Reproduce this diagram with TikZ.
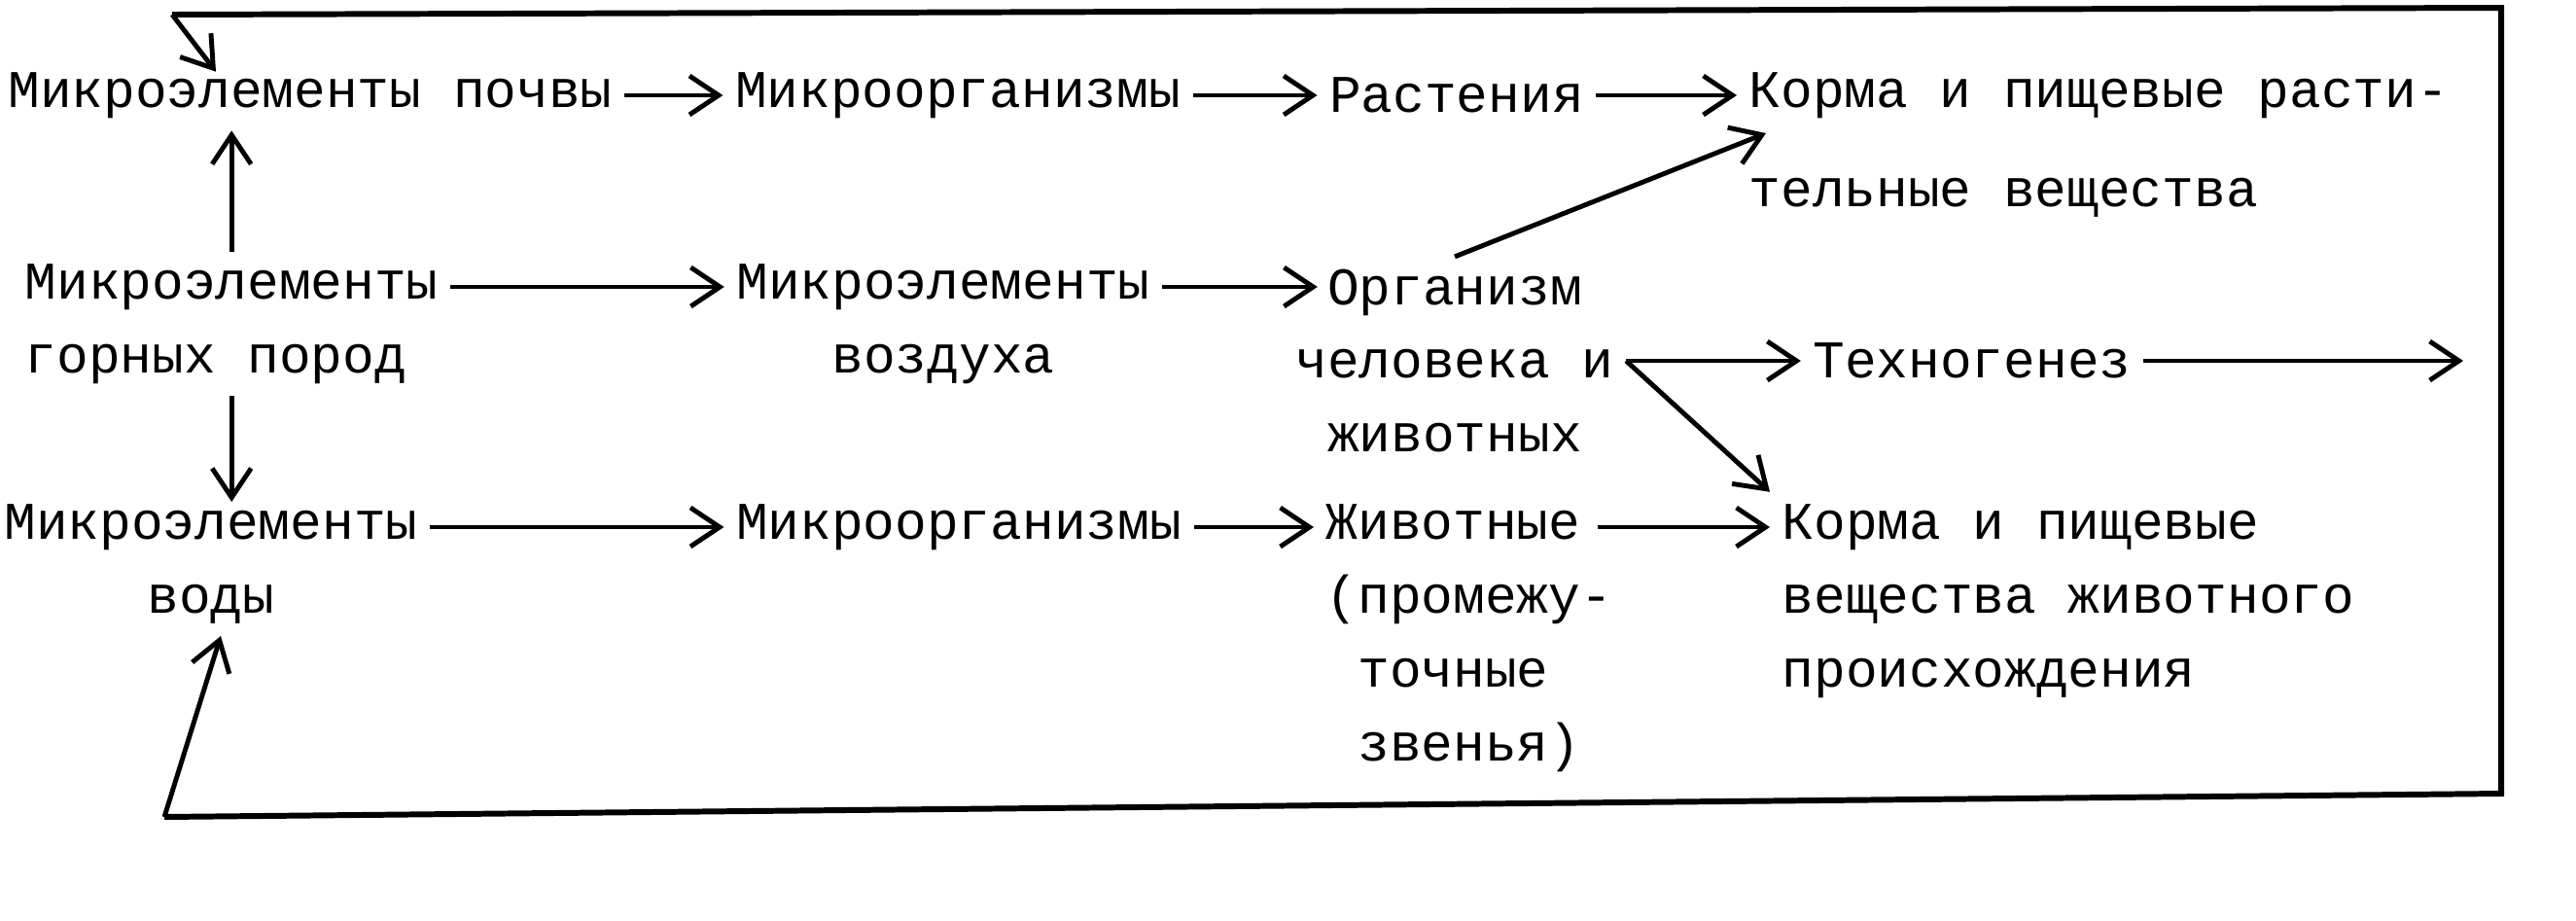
\documentclass[tikz,border=0pt]{standalone}
\usepackage{fontspec}
\setmonofont{Liberation Mono}
\usetikzlibrary{arrows.meta,calc}

\begin{document}
\begin{tikzpicture}[
    txt/.style={font=\ttfamily\fontsize{15.5}{21.6}\selectfont, inner sep=1.2mm},
    arr/.style={-{Straight Barb[length=3mm,width=4mm]}, line width=1.4pt},
    frame/.style={line width=1.7pt}
  ]
  \useasboundingbox (0,0) rectangle (26.49,-9.46);

  % first row
  \node[txt] (soil) at (3.19,-0.98) {Микроэлементы почвы};
  \node[txt] (micro1) at (9.85,-0.98) {Микроорганизмы};
  \node[txt] (plants) at (14.98,-0.98) {Растения};
  \node[txt, align=left, anchor=west] (feedplant) at (17.86,-1.49) {Корма и пищевые расти-\\[0.26cm]тельные вещества};

  % second row
  \node[txt, align=left, anchor=west] (rocks) at (0.13,-3.33) {Микроэлементы\\горных пород};
  \node[txt, align=center] (air) at (9.70,-3.33) {Микроэлементы\\воздуха};
  \node[txt, align=center] (organism) at (14.96,-3.71) {Организм\\человека и\\животных};
  \node[txt] (techno) at (20.28,-3.71) {Техногенез};
  \coordinate (out) at (25.33,-3.71);

  % third row
  \node[txt, align=center] (water) at (2.17,-5.80) {Микроэлементы\\воды};
  \node[txt] (micro2) at (9.86,-5.42) {Микроорганизмы};
  \node[txt, align=left, anchor=west] (animals) at (13.51,-6.56) {Животные\\(промежу-\\~точные\\~звенья)};
  \node[txt, align=left, anchor=west] (feedanimal) at (18.20,-6.18) {Корма и пищевые\\вещества животного\\происхождения};

  % frame
  \coordinate (tl) at (1.77,-0.15);
  \coordinate (tr) at (25.72,-0.08);
  \coordinate (br) at (25.72,-8.16);
  \coordinate (bl) at (1.69,-8.40);
  \draw[frame] (tl) -- (tr) -- (br) -- (bl);
  \draw[arr] (tl) -- ($(soil.north west)!0.35!(soil.north east)+(0,-0.12)$);
  \draw[arr] (bl) -- ([xshift=1mm]water.south);

  \draw[arr] (soil) -- (micro1);
  \draw[arr] (micro1) -- (plants);
  \draw[arr] (plants.east) -- (plants.east -| feedplant.west);

  \draw[arr] (rocks.north) -- (rocks.north |- soil.south);
  \draw[arr] (rocks.south) -- ([yshift=-1mm]rocks.south |- water.north);
  \draw[arr] ($(rocks.east)+(0,0.38)$) -- ($(air.west)+(0,0.38)$);
  \draw[arr] ($(air.east)+(0,0.38)$) -- ($(air.east -| organism.west)+(0.35,0.38)$);
  \draw[arr] (organism.north) -- ($(feedplant.west)+(0.3,0.12)$);
  \draw[arr] (organism.east) -- (techno.west);
  \draw[arr] (organism.east) -- (feedanimal.north west);
  \draw[arr] (techno.east) -- (out);

  \draw[arr] ($(water.east)+(0,0.38)$) -- (micro2.west);
  \draw[arr] (micro2.east) -- (micro2.east -| animals.west);
  \draw[arr] ($(micro2.east -| animals.east)+(-0.28,0)$) -- (micro2.east -| feedanimal.west);
\end{tikzpicture}
\end{document}
